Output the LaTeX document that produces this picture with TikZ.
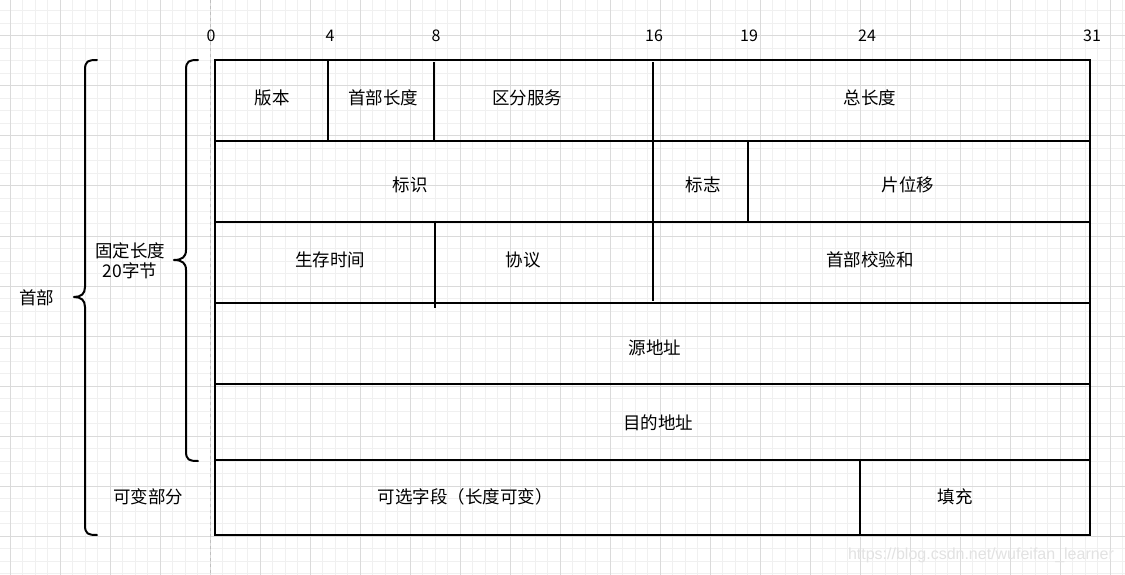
\documentclass[tikz,border=0pt]{standalone}
\usepackage{fontspec}
\setmainfont{Noto Sans CJK SC}
\newfontfamily\wmfont{Liberation Sans}
\definecolor{gridmajor}{HTML}{DADADA}
\definecolor{gridminor}{HTML}{F0F0F0}
\definecolor{wmgray}{HTML}{E2E2E2}
\begin{document}
\begin{tikzpicture}[x=1pt,y=-1pt,
  cell/.style={font=\fontsize{17.5}{20}\selectfont, inner sep=0pt, anchor=center},
  bit/.style={font=\fontsize{16}{19}\selectfont, inner sep=0pt, anchor=center},
  tbl/.style={line width=2pt, line cap=rect},
  brace/.style={line width=2pt, line cap=round, line join=round}]
\useasboundingbox (0,0) rectangle (1125,575);
\fill[white] (0,0) rectangle (1125,575);
% grid
\foreach \i in {0,...,89} {\draw[gridminor, line width=1pt] ({10+12.5*\i},0) -- ({10+12.5*\i},575);}
\foreach \i in {0,...,46} {\draw[gridminor, line width=1pt] (0,{11+12.5*\i}) -- (1125,{11+12.5*\i});}
\foreach \i in {0,...,22} {\draw[gridmajor, line width=1pt] ({10+50*\i},0) -- ({10+50*\i},575);}
\foreach \i in {0,...,11} {\draw[gridmajor, line width=1pt] (0,{36+50*\i}) -- (1125,{36+50*\i});}
% dashed guide
\draw[gray!50, dashed, line width=1pt] (210,0) -- (210,575);
% bit scale
\node[bit] (b0) at (211,36) {0};
\node[bit] (b4) at (330,36) {4};
\node[bit] (b8) at (436,36) {8};
\node[bit] (b16) at (654,36) {16};
\node[bit] (b19) at (749,36) {19};
\node[bit] (b24) at (867,36) {24};
\node[bit] (b31) at (1092,36) {31};
% table frame and rows
\draw[tbl] (215,60) rectangle (1090,535);
\foreach \y in {141,222,303,384,460} {\draw[tbl] (215,\y) -- (1090,\y);}
% dividers
\draw[tbl] (328,60) -- (328,141);
\draw[tbl] (434,63) -- (434,141);
\draw[tbl] (653,63) -- (653,141);
\draw[tbl] (653,141) -- (653,222);
\draw[tbl] (748,141) -- (748,222);
\draw[tbl] (435,222) -- (435,307);
\draw[tbl] (653,222) -- (653,300);
\draw[tbl] (860,460) -- (860,535);
% cell texts
\node[cell] (ver) at (272,98) {版本};
\node[cell] (hlen) at (383,98) {首部长度};
\node[cell] (ds) at (527,98) {区分服务};
\node[cell] (tlen) at (870,98) {总长度};
\node[cell] (id) at (410,185) {标识};
\node[cell] (flag) at (703,185) {标志};
\node[cell] (frag) at (908,185) {片位移};
\node[cell] (ttl) at (330,260) {生存时间};
\node[cell] (proto) at (523,260) {协议};
\node[cell] (csum) at (870,260) {首部校验和};
\node[cell] (src) at (655,348) {源地址};
\node[cell] (dst) at (658,423) {目的地址};
\node[cell] (opt) at (465,497) {可选字段（长度可变）};
\node[cell] (pad) at (955,497) {填充};
% braces
\draw[brace] (97,60) .. controls (88,60) and (85,61) .. (85,70) -- (85,287)
  .. controls (85,294) and (81,297) .. (74,297)
  .. controls (81,297) and (85,300) .. (85,307) -- (85,525)
  .. controls (85,534) and (88,535) .. (97,535);
\draw[brace] (198,60) .. controls (189,60) and (186,61) .. (186,70) -- (186,250)
  .. controls (186,257) and (182,260) .. (174,260)
  .. controls (182,260) and (186,263) .. (186,270) -- (186,451)
  .. controls (186,460) and (189,461) .. (198,461);
% side labels
\node[cell] (hdr) at (37,298) {首部};
\node[cell, align=center, font=\fontsize{17.5}{20}\selectfont] (fixed) at (130,261) {固定长度\\20字节};
\node[cell] (var) at (148,497) {可变部分};
% watermark
\node[inner sep=0pt, text=wmgray, font=\wmfont\fontsize{16}{18}\selectfont] (wm) at (981,555) {https://blog.csdn.net/wufeifan\_learner};
\end{tikzpicture}
\end{document}
